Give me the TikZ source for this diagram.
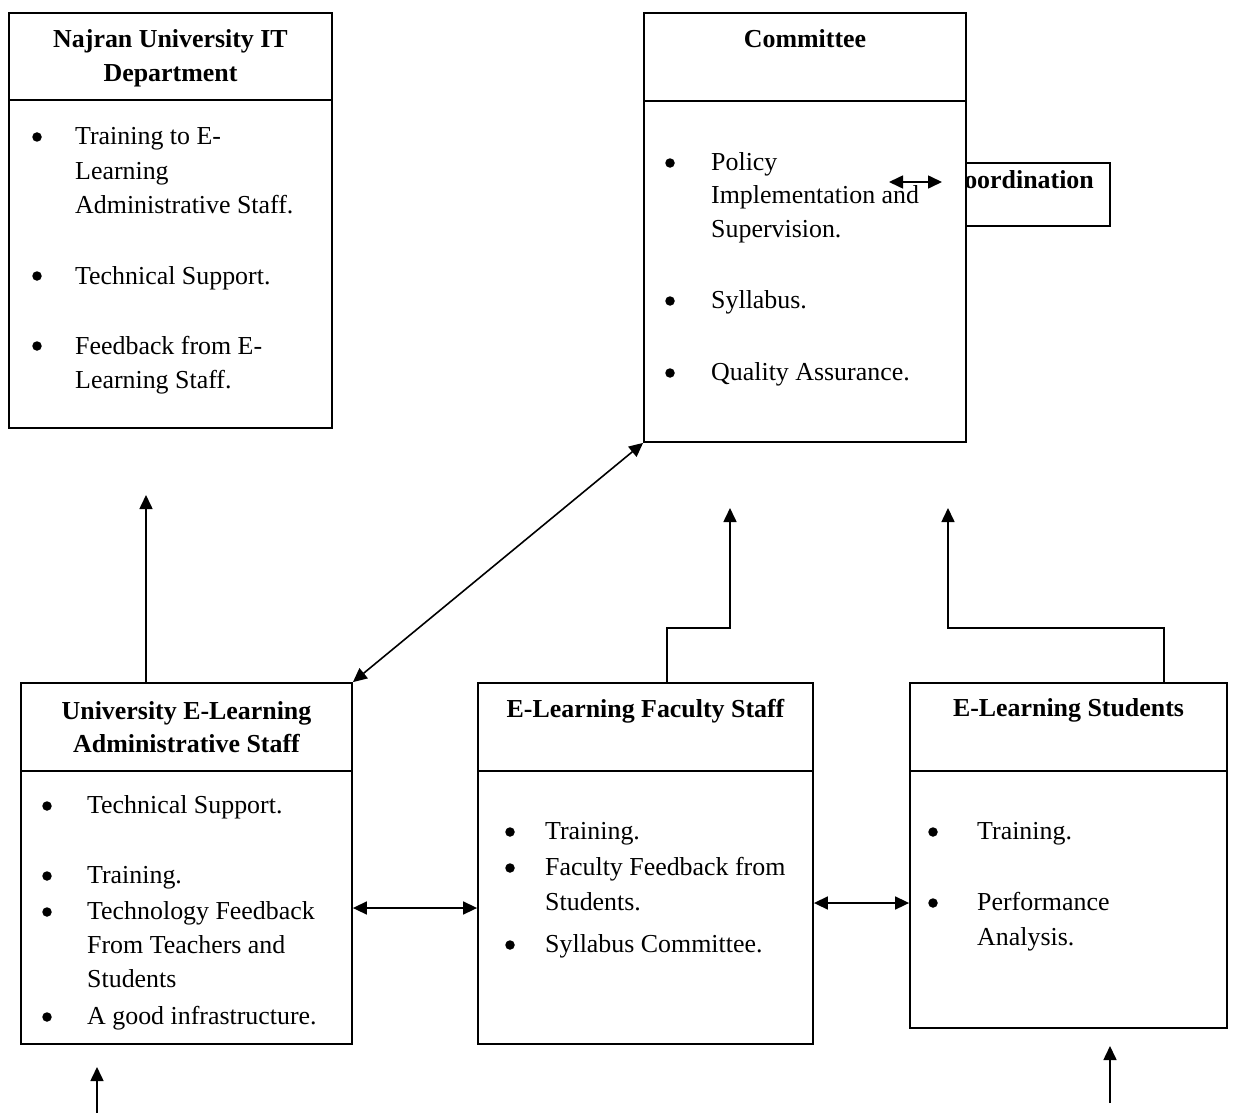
\documentclass[tikz,border=0pt]{standalone}
\usepackage{fontspec}
\setmainfont{Liberation Serif}
\usetikzlibrary{arrows.meta}

\tikzset{
  box/.style={draw, line width=1.8pt, fill=white, inner sep=0pt},
  rule/.style={line width=1.8pt},
  head/.style={font=\fontsize{25.9}{34}\selectfont\bfseries, anchor=base, inner sep=0pt},
  itemtext/.style={anchor=base west, inner sep=0pt},
  dot/.style={circle, fill, inner sep=0pt, minimum size=9.5pt},
  link/.style={line width=1.6pt, -{Triangle[length=14pt,width=13pt]}},
  twoway/.style={line width=1.6pt, {Triangle[length=14pt,width=13pt]}-{Triangle[length=14pt,width=13pt]}},
}

\begin{document}
\begin{tikzpicture}[x=1pt,y=-1pt,font=\fontsize{25.9}{34}\selectfont]
\useasboundingbox (0,0) rectangle (1234,1113);

% coordination box, partly hidden behind the committee
\node[box, minimum width=144pt, minimum height=63pt] (coord) at (1038,194.5) {};
\node[head, anchor=base east] (coordtxt) at (1094,188) {Coordination};

% boxes
\node[box, minimum width=323pt, minimum height=415pt] (itdept) at (170.5,220.5) {};
\node[box, minimum width=322pt, minimum height=429pt] (cmte) at (805,227.5) {};
\node[box, minimum width=331pt, minimum height=361pt] (admin) at (186.5,863.5) {};
\node[box, minimum width=335pt, minimum height=361pt] (fac) at (645.5,863.5) {};
\node[box, minimum width=317pt, minimum height=345pt] (stud) at (1068.5,855.5) {};

\draw[rule] ([yshift=-88pt]itdept.north west) -- ([yshift=-88pt]itdept.north east);
\foreach \b in {cmte,admin,fac,stud}
\draw[rule] ([yshift=-89pt]\b.north west) -- ([yshift=-89pt]\b.north east);

% headers
\node[head] (ith1) at (170.5,48) {Najran University IT};
\node[head] (ith2) at (170.5,82) {Department};
\node[head] (cmteh) at (805,48) {Committee};
\node[head] (adminh1) at (186.5,719) {University E-Learning};
\node[head] (adminh2) at (186.5,752) {Administrative Staff};
\node[head] (fach) at (645.5,717) {E-Learning Faculty Staff};
\node[head] (studh) at (1068.5,716) {E-Learning Students};

% items
\foreach \y/\txt in {145/Training to E-,179/Learning,213/Administrative Staff.,284/Technical Support.,354/Feedback from E-,388/Learning Staff.}
\node[itemtext] (it\y) at (75,\y) {\txt};
\foreach \y in {137,276,346}
\node[dot] (itdot\y) at (37,\y) {};

\foreach \y/\txt in {170/Policy,203/Implementation and,237/Supervision.,308/Syllabus.,380/Quality Assurance.}
\node[itemtext] (cmte\y) at (711,\y) {\txt};
\foreach \y in {163,301,373}
\node[dot] (cmtedot\y) at (670,\y) {};

\foreach \y/\txt in {813/Technical Support.,883/Training.,919/Technology Feedback,953/From Teachers and,987/Students,1024/A good infrastructure.}
\node[itemtext] (admin\y) at (87,\y) {\txt};
\foreach \y in {806,876,912,1017}
\node[dot] (admindot\y) at (47,\y) {};

\foreach \y/\txt in {839/Training.,875/Faculty Feedback from,910/Students.,952/Syllabus Committee.}
\node[itemtext] (fac\y) at (545,\y) {\txt};
\foreach \y in {832,868,945}
\node[dot] (facdot\y) at (510,\y) {};

\foreach \y/\txt in {839/Training.,910/Performance,945/Analysis.}
\node[itemtext] (stud\y) at (977,\y) {\txt};
\foreach \y in {832,903}
\node[dot] (studdot\y) at (933,\y) {};

% connectors
\coordinate (cl) at (889,182);
\coordinate (cr) at (942,182);
\draw[twoway] (cl) -- (cr);

\coordinate (ittip) at (146,495);
\draw[link] (admin.north -| ittip) -- (ittip);
\draw[twoway] (admin.north east) -- (cmte.south west);

\coordinate (facbend) at (667,628);
\coordinate (factip) at (730,508);
\draw[link] (fac.north -| facbend) |- (factip |- facbend) -- (factip);
\coordinate (studbend) at (1164,628);
\coordinate (studtip) at (948,508);
\draw[link] (stud.north -| studbend) |- (studtip |- studbend) -- (studtip);

\coordinate (mid1) at (415,908);
\draw[twoway] (admin.east |- mid1) -- (fac.west |- mid1);
\coordinate (mid2) at (860,903);
\draw[twoway] (fac.east |- mid2) -- (stud.west |- mid2);

\coordinate (inl) at (97,1113);
\coordinate (inltip) at (97,1067);
\draw[link] (inl) -- (inltip);
\coordinate (inr) at (1110,1103);
\coordinate (inrtip) at (1110,1046);
\draw[link] (inr) -- (inrtip);
\end{tikzpicture}
\end{document}
